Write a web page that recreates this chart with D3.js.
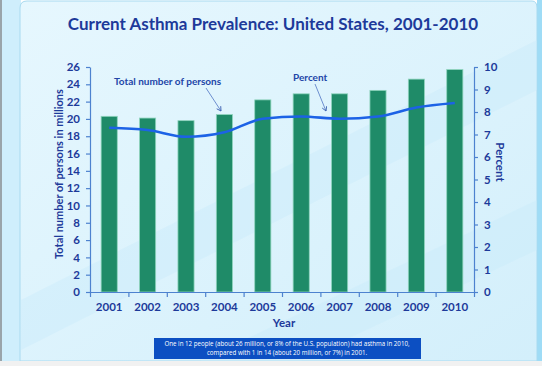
<!DOCTYPE html>
<html>
<head>
<meta charset="utf-8">
<script src="https://cdn.jsdelivr.net/npm/d3@7"></script>
<style>
  body { margin: 0; background: #ffffff; }
  svg { display: block; font-family: Lato, "Open Sans", sans-serif; }
</style>
</head>
<body>
<div class="graph"></div>
<script>
/*--------------- DATA -------------*/
const years = ["2001","2002","2003","2004","2005","2006","2007","2008","2009","2010"];
const persons = [20.3, 20.1, 19.8, 20.5, 22.2, 22.9, 22.9, 23.3, 24.6, 25.7];
const percent = [7.3, 7.2, 6.9, 7.1, 7.7, 7.8, 7.7, 7.8, 8.2, 8.4];
const leftTicks = d3.range(0, 27, 2);
const rightTicks = d3.range(0, 11, 1);

//define dimensions
const SIZE = {X: 542, Y: 366};
const PLOT = {LEFT: 90, RIGHT: 474, TOP: 67, BOTTOM: 292};
const NAVY = "#1d3a9a";
const AXIS = "#4d82cf";

const svg = d3.select(".graph").append("svg")
    .attr("width", SIZE.X)
    .attr("height", SIZE.Y);

const defs = svg.append("defs");
const grad = defs.append("linearGradient")
    .attr("id", "bg")
    .attr("x1", "0").attr("y1", "0").attr("x2", "1").attr("y2", "1");
grad.append("stop").attr("offset", "0").attr("stop-color", "#e6f7fe");
grad.append("stop").attr("offset", "1").attr("stop-color", "#d3effb");

defs.append("marker")
    .attr("id", "arrow")
    .attr("viewBox", "0 0 10 10")
    .attr("refX", 8).attr("refY", 5)
    .attr("markerWidth", 6).attr("markerHeight", 6)
    .attr("orient", "auto")
  .append("path")
    .attr("d", "M1,1 L8,5 L1,9")
    .attr("fill", "none")
    .attr("stroke", "#3a5fb0")
    .attr("stroke-width", 1.4);

// background frame
svg.append("rect").attr("x", 0).attr("y", 0).attr("width", 21).attr("height", 361).attr("fill", "#cfeefc");
svg.append("rect").attr("x", 0).attr("y", 0).attr("width", 2).attr("height", 361).attr("fill", "#9aa4aa");
svg.append("rect").attr("x", 537).attr("y", 0).attr("width", 5).attr("height", 361).attr("fill", "#9fdcf6");
svg.append("path")
    .attr("d", "M20,361 L20,8 Q20,1 27,1 L532,1 Q537,1 537,8 L537,361 Z")
    .attr("fill", "url(#bg)")
    .attr("stroke", "#a8daf0")
    .attr("stroke-width", 1);

// soft diagonal bands
svg.append("path")
    .attr("d", "M21,300 L537,40 L537,90 L21,350 Z")
    .attr("fill", "#c9ecfa").attr("opacity", 0.45);
svg.append("path")
    .attr("d", "M200,361 L537,200 L537,250 L300,361 Z")
    .attr("fill", "#c9ecfa").attr("opacity", 0.4);
svg.append("rect").attr("x", 0).attr("y", 361).attr("width", SIZE.X).attr("height", 5).attr("fill", "#f1f1f1");

// title
svg.append("text")
    .attr("x", 273).attr("y", 30)
    .attr("text-anchor", "middle")
    .attr("fill", NAVY)
    .attr("font-size", 17)
    .attr("font-weight", "bold")
    .text("Current Asthma Prevalence: United States, 2001-2010");

//define scales
const x = d3.scaleBand()
    .domain(years)
    .range([PLOT.LEFT, PLOT.RIGHT])
    .paddingInner(0.58)
    .paddingOuter(0.29);

const y = d3.scaleLinear().domain([0, 26]).range([PLOT.BOTTOM, PLOT.TOP]);
const y2 = d3.scaleLinear().domain([0, 10]).range([PLOT.BOTTOM, PLOT.TOP]);

// bars
svg.selectAll("rect.bar")
    .data(persons)
    .enter()
    .append("rect")
    .attr("class", "bar")
    .attr("x", (d, i) => x(years[i]))
    .attr("y", d => y(d))
    .attr("width", x.bandwidth())
    .attr("height", d => y(0) - y(d))
    .attr("fill", "#1f8b68")
    .attr("stroke", "#8fd4bd")
    .attr("stroke-width", 0.8);

// percent line
const line = d3.line()
    .x((d, i) => x(years[i]) + x.bandwidth() / 2)
    .y(d => y2(d))
    .curve(d3.curveMonotoneX);

svg.append("path")
    .datum(percent)
    .attr("d", line)
    .attr("fill", "none")
    .attr("stroke", "#1c62e6")
    .attr("stroke-width", 2.6);

// axes
function styleAxis(g) {
    g.selectAll("path, line").attr("stroke", AXIS).attr("stroke-width", 1.2);
    g.selectAll("text")
        .attr("fill", NAVY)
        .attr("font-size", 11.5)
        .attr("font-weight", "bold")
        .attr("font-family", "Lato, sans-serif");
}

const xBand = d3.scaleLinear().domain([0, years.length]).range([PLOT.LEFT, PLOT.RIGHT]);
const xAxis = svg.append("g")
    .attr("transform", `translate(0, ${PLOT.BOTTOM})`)
    .call(d3.axisBottom(xBand).tickValues(d3.range(0, years.length + 1)).tickSize(5).tickFormat(""));
styleAxis(xAxis);
xAxis.select(".domain").attr("d", `M${PLOT.LEFT - 4},0.5H${PLOT.RIGHT + 4}`);

svg.selectAll("text.year")
    .data(years)
    .enter()
    .append("text")
    .attr("class", "year")
    .attr("x", d => x(d) + x.bandwidth() / 2)
    .attr("y", PLOT.BOTTOM + 19)
    .attr("text-anchor", "middle")
    .attr("fill", NAVY)
    .attr("font-size", 11.5)
    .attr("font-weight", "bold")
    .text(d => d);

const yAxis = svg.append("g")
    .attr("transform", `translate(${PLOT.LEFT}, 0)`)
    .call(d3.axisLeft(y).tickValues(leftTicks).tickSize(4).tickSizeOuter(0).tickPadding(6));
styleAxis(yAxis);

const yAxis2 = svg.append("g")
    .attr("transform", `translate(${PLOT.RIGHT}, 0)`)
    .call(d3.axisRight(y2).tickValues(rightTicks).tickSize(4).tickSizeOuter(0).tickPadding(6));
styleAxis(yAxis2);

// axis titles
svg.append("text")
    .attr("transform", "translate(63, 174) rotate(-90)")
    .attr("text-anchor", "middle")
    .attr("fill", NAVY)
    .attr("font-size", 11)
    .attr("font-weight", "bold")
    .text("Total number of persons in millions");

svg.append("text")
    .attr("transform", "translate(496, 162) rotate(90)")
    .attr("text-anchor", "middle")
    .attr("fill", NAVY)
    .attr("font-size", 11.5)
    .attr("font-weight", "bold")
    .text("Percent");

svg.append("text")
    .attr("x", 284).attr("y", 327)
    .attr("text-anchor", "middle")
    .attr("fill", NAVY)
    .attr("font-size", 11.5)
    .attr("font-weight", "bold")
    .text("Year");

// annotations
svg.append("text")
    .attr("x", 114).attr("y", 85)
    .attr("fill", "#2246a8")
    .attr("font-size", 10)
    .attr("font-weight", "bold")
    .text("Total number of persons");
svg.append("line")
    .attr("x1", 206).attr("y1", 88).attr("x2", 221).attr("y2", 111)
    .attr("stroke", "#6d8fd0").attr("stroke-width", 1)
    .attr("marker-end", "url(#arrow)");

svg.append("text")
    .attr("x", 293).attr("y", 81)
    .attr("fill", "#2246a8")
    .attr("font-size", 10)
    .attr("font-weight", "bold")
    .text("Percent");
svg.append("line")
    .attr("x1", 315).attr("y1", 84).attr("x2", 326).attr("y2", 111)
    .attr("stroke", "#6d8fd0").attr("stroke-width", 1)
    .attr("marker-end", "url(#arrow)");

// footnote box
svg.append("rect")
    .attr("x", 154).attr("y", 338)
    .attr("width", 267).attr("height", 21)
    .attr("fill", "#0c4fc2");
const note = svg.append("text")
    .attr("text-anchor", "middle")
    .attr("fill", "#ffffff")
    .attr("font-size", 6.2)
    .attr("font-family", "Open Sans, sans-serif");
note.append("tspan").attr("x", 287).attr("y", 346)
    .text("One in 12 people (about 26 million, or 8% of the U.S. population) had asthma in 2010,");
note.append("tspan").attr("x", 287).attr("y", 355)
    .text("compared with 1 in 14 (about 20 million, or 7%) in 2001.");
</script>
</body>
</html>
